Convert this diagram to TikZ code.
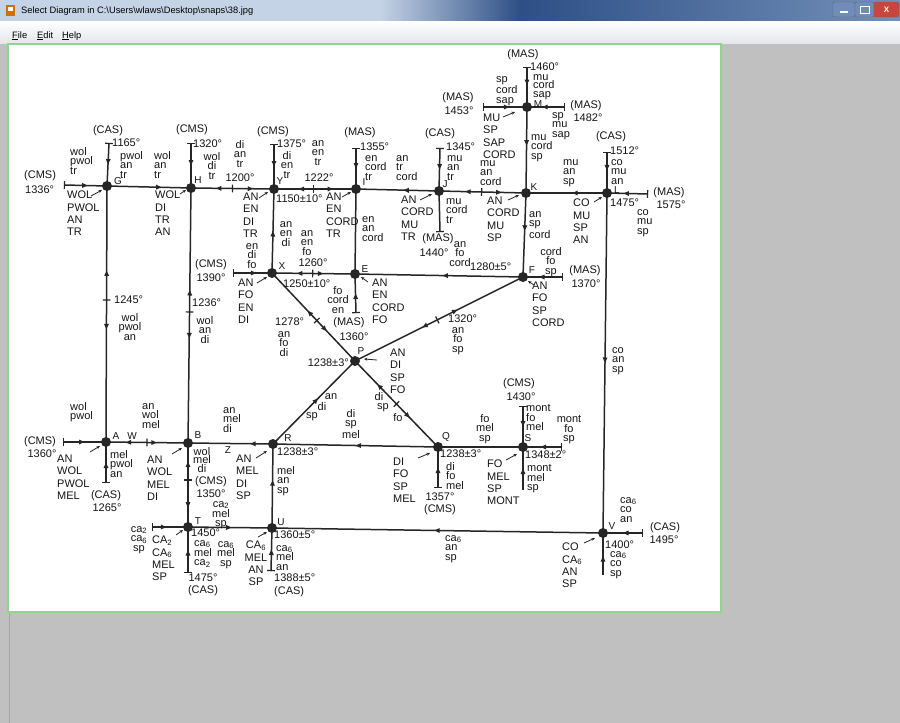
\documentclass[tikz,border=0pt]{standalone}
\usepackage{fontspec}
\setmainfont{Liberation Sans}
\usetikzlibrary{decorations.markings,arrows.meta}
\newcommand{\lsb}[1]{\textsubscript{#1}}
\definecolor{linec}{HTML}{262626}
\definecolor{txtc}{HTML}{151515}
\definecolor{bgc}{HTML}{C0C0C0}
\definecolor{tbA}{HTML}{9DB5D4}
\definecolor{tbB}{HTML}{2D4F86}
\definecolor{tbC}{HTML}{7390B8}
\definecolor{menuc}{HTML}{E4E7EB}
\definecolor{grn}{HTML}{8FD48F}
\definecolor{closec}{HTML}{C8463C}
\definecolor{btnc}{HTML}{6F8DB8}
\tikzset{
  ln/.style={line width=1.5pt, draw=linec},
  ptdot/.style={circle, fill=linec, inner sep=0pt, minimum size=10pt},
  fa/.style={postaction={decorate,decoration={markings,mark=at position #1 with {\arrow{Triangle[length=5.5pt,width=4.5pt]}}}}},
  ba/.style={postaction={decorate,decoration={markings,mark=at position #1 with {\arrowreversed{Triangle[length=5.5pt,width=4.5pt]}}}}},
  tk/.style={postaction={decorate,decoration={markings,mark=at position #1 with {\draw[line width=1.2pt,draw=linec] (0pt,-3.8pt) -- (0pt,3.8pt);}}}},
  lab/.style={font=\fontsize{11}{12}\selectfont, inner sep=0pt, text=txtc},
  ptl/.style={font=\fontsize{10}{11}\selectfont, inner sep=0pt, text=txtc},
  capl/.style={font=\fontsize{11}{12.2}\selectfont, inner sep=0pt, text=txtc, align=left, anchor=north west},
  lo/.style={font=\fontsize{11}{9.8}\selectfont, inner sep=0pt, text=txtc, align=left, anchor=north west},
  loc/.style={lo, align=center, anchor=north},
  tight/.style={font=\fontsize{11}{8.6}\selectfont},
  lead/.style={-{Stealth[length=3.5pt,width=3pt]}, line width=0.8pt, draw=linec},
  ui/.style={font=\fontsize{9.3}{10}\selectfont, inner sep=0pt, text=black},
}
\begin{document}
\begin{tikzpicture}[x=1pt,y=-1pt]
\useasboundingbox (0,0) rectangle (900,723);
% ---------- window chrome ----------
\fill[bgc] (0,0) rectangle (900,723);
\fill[tbA!60!white] (0,0) rectangle (380,21);
\shade[left color=tbA!60!white, right color=tbB] (380,0) rectangle (520,21);
\shade[left color=tbB, right color=tbC] (520,0) rectangle (900,21);
\fill[orange!85!black] (6,5) rectangle (15,16);
\fill[white] (8,7) rectangle (13,11);
\node[ui, anchor=west] (ttl) at (21,11) {Select Diagram in C:\textbackslash Users\textbackslash wlaws\textbackslash Desktop\textbackslash snaps\textbackslash 38.jpg};
\draw[rounded corners=2pt, fill=btnc, draw=black!60] (833,2) rectangle (855,17);
\draw[rounded corners=2pt, fill=btnc, draw=black!60] (855,2) rectangle (874,17);
\draw[rounded corners=2pt, fill=closec, draw=black!60] (874,2) rectangle (899,17);
\draw[white, line width=1.5pt] (840,12) -- (848,12);
\draw[white, line width=1pt] (860,6) rectangle (869,13);
\node[font=\bfseries\fontsize{8}{8}\selectfont, text=white, inner sep=0pt] (xbtn) at (886.5,9.5) {X};
\shade[top color=white, bottom color=menuc] (0,21) rectangle (900,43);
\node[ui, anchor=base west] (mfile) at (12,38) {\underline{F}ile};
\node[ui, anchor=base west] (medit) at (37,38) {\underline{E}dit};
\node[ui, anchor=base west] (mhelp) at (62,38) {\underline{H}elp};
\fill[white] (8,44) rectangle (721,612);
\draw[grn, line width=1.5pt] (8,44) rectangle (721,612);
\draw[black!35] (9,613) -- (9,723);
% ---------- points ----------
\coordinate (G) at (107,186); \coordinate (H) at (191,188);
\coordinate (Y) at (274,189); \coordinate (I) at (356,189);
\coordinate (J) at (439,191); \coordinate (K) at (526,193);
\coordinate (L) at (607,193); \coordinate (M) at (527,107);
\coordinate (X) at (272,273); \coordinate (E) at (355,274);
\coordinate (F) at (523,277); \coordinate (P) at (355,361);
\coordinate (A) at (106,442); \coordinate (B) at (188,443);
\coordinate (R) at (273,444); \coordinate (Q) at (438,447);
\coordinate (S) at (523,447); \coordinate (T) at (188,527);
\coordinate (U) at (272,528); \coordinate (V) at (603,533);
% free ends
\coordinate (g1336) at (64,185); \coordinate (g1165) at (109,143);
\coordinate (h1320) at (191,143); \coordinate (y1375) at (274,144);
\coordinate (i1355) at (356,148); \coordinate (j1345) at (440,148);
\coordinate (m1460) at (527,67); \coordinate (m1453) at (483,107);
\coordinate (m1482) at (565,107); \coordinate (l1512) at (607,152);
\coordinate (l1575) at (648,194); \coordinate (j1440) at (440,232);
\coordinate (x1390) at (233,273); \coordinate (f1370) at (563,277);
\coordinate (e1360) at (356,313);
\coordinate (a1360) at (63,442); \coordinate (a1265) at (106,483);
\coordinate (q1357) at (438,488); \coordinate (s1430) at (523,406);
\coordinate (sDown) at (523,490); \coordinate (sRight) at (562,447);
\coordinate (t1475) at (188,573); \coordinate (u1388) at (271,571);
\coordinate (v1495) at (643,533); \coordinate (vDown) at (603,575);
\coordinate (tLeft) at (152,527);
% ---------- connectors ----------
\draw[ln, tk=0.01, fa=0.55] (g1336) -- (G);
\draw[ln, tk=0.01, fa=0.5] (g1165) -- (G);
\draw[ln, fa=0.65] (G) -- (H);
\draw[ln, tk=0.01, fa=0.5] (h1320) -- (H);
\draw[ln, tk=0.5, ba=0.3, fa=0.75] (H) -- (Y);
\draw[ln, tk=0.01, fa=0.5] (y1375) -- (Y);
\draw[ln, tk=0.48, ba=0.3, fa=0.72] (Y) -- (I);
\draw[ln, tk=0.01, fa=0.5] (i1355) -- (I);
\draw[ln, ba=0.57] (I) -- (J);
\draw[ln, tk=0.01, fa=0.5] (j1345) -- (J);
\draw[ln, tk=0.49, ba=0.3, fa=0.72] (J) -- (K);
\draw[ln, tk=0.01, fa=0.45] (m1460) -- (M);
\draw[ln, tk=0.01, fa=0.6] (m1453) -- (M);
\draw[ln, tk=0.01, fa=0.6] (m1482) -- (M);
\draw[ln, fa=0.45] (M) -- (K);
\draw[ln, ba=0.57] (K) -- (L);
\draw[ln, tk=0.01, fa=0.45] (l1512) -- (L);
\draw[ln, tk=0.01, fa=0.6] (l1575) -- (L);
\draw[ln, fa=0.45] (K) -- (F);
\draw[ln, fa=0.5] (L) -- (V);
\draw[ln, tk=0.01] (j1440) -- (J);
\draw[ln, tk=0.01, fa=0.6] (x1390) -- (X);
\draw[ln, fa=0.5] (X) -- (Y);
\draw[ln, tk=0.49, ba=0.3, fa=0.62] (X) -- (E);
\draw[ln] (E) -- (I);
\draw[ln, tk=0.01, fa=0.5] (e1360) -- (E);
\draw[ln, ba=0.52] (E) -- (F);
\draw[ln, tk=0.01, fa=0.6] (f1370) -- (F);
\draw[ln, tk=0.54, ba=0.43, fa=0.66] (X) -- (P);
\draw[ln, tk=0.49, ba=0.40, fa=0.61] (P) -- (F);
\draw[ln, fa=0.55] (R) -- (P);
\draw[ln, tk=0.5, ba=0.27, fa=0.66] (P) -- (Q);
\draw[ln, tk=0.01, fa=0.5] (a1360) -- (A);
\draw[ln, tk=0.5, ba=0.24, fa=0.62] (A) -- (B);
\draw[ln, tk=0.01, fa=0.5] (a1265) -- (A);
\draw[ln, tk=0.445, ba=0.33, fa=0.56] (G) -- (A);
\draw[ln, tk=0.486, ba=0.4, fa=0.59] (H) -- (B);
\draw[ln, ba=0.73] (B) -- (R);
\draw[ln, tk=0.44, ba=0.22, fa=0.77] (B) -- (T);
\draw[ln, ba=0.5] (R) -- (Q);
\draw[ln] (Q) -- (S);
\draw[ln, tk=0.01, fa=0.55] (sRight) -- (S);
\draw[ln, tk=0.01, fa=0.5] (s1430) -- (S);
\draw[ln, fa=0.5] (sDown) -- (S);
\draw[ln, tk=0.01, fa=0.5] (q1357) -- (Q);
\draw[ln, fa=0.57] (U) -- (R);
\draw[ln, fa=0.52] (T) -- (U);
\draw[ln, ba=0.49] (U) -- (V);
\draw[ln, tk=0.01, fa=0.5] (v1495) -- (V);
\draw[ln, fa=0.45] (vDown) -- (V);
\draw[ln, tk=0.01, fa=0.5] (t1475) -- (T);
\draw[ln, tk=0.01, fa=0.5] (u1388) -- (U);
\draw[ln, tk=0.01, fa=0.4] (tLeft) -- (T);
% ---------- dots ----------
\foreach \p in {G,H,Y,I,J,K,L,M,X,E,F,P,A,B,R,Q,S,T,U,V}
  \node[ptdot] (d\p) at (\p) {};
% ---------- point letters ----------
\node[ptl] (nG) at (118,181) {G};
\node[ptl] (nH) at (198,180) {H};
\node[ptl] (nY) at (280,181) {Y};
\node[ptl] (nI) at (364,182) {I};
\node[ptl] (nJ) at (445,184) {J};
\node[ptl] (nK) at (534,187) {K};
\node[ptl] (nL) at (617,190) {L};
\node[ptl] (nM) at (538,104) {M};
\node[ptl] (nX) at (282,266) {X};
\node[ptl] (nE) at (365,269) {E};
\node[ptl] (nF) at (532,270) {F};
\node[ptl] (nP) at (361,351) {P};
\node[ptl] (nA) at (116,436) {A};
\node[ptl] (nW) at (132,436) {W};
\node[ptl] (nB) at (198,435) {B};
\node[ptl] (nZ) at (228,450) {Z};
\node[ptl] (nR) at (288,438) {R};
\node[ptl] (nQ) at (446,437) {Q};
\node[ptl] (nS) at (528,438) {S};
\node[ptl] (nT) at (198,521) {T};
\node[ptl] (nU) at (281,522) {U};
\node[ptl] (nV) at (612,526) {V};
% ---------- top-left labels ----------
\node[lab] (tCAS1) at (108,131) {(CAS)};
\node[lab, anchor=west] (t1165) at (112,143) {1165°};
\node[lo] (lG1) at (70,147) {wol\\pwol\\tr};
\node[lo] (lG2) at (120,151) {pwol\\an\\tr};
\node[lo] (lG3) at (154,151) {wol\\an\\tr};
\node[lab, anchor=west] (tCMS1) at (24,176) {(CMS)};
\node[lab, anchor=west] (t1336) at (25,190) {1336°};
\node[capl] (cG) at (67,191) {WOL\\PWOL\\AN\\TR};
\draw[lead] ([shift={(-16,10)}]G) -- ([shift={(-5,4)}]G);
\node[capl] (cH) at (155,191) {WOL\\DI\\TR\\AN};
\draw[lead] ([shift={(-11,6)}]H) -- ([shift={(-5,2)}]H);
\node[lab] (tCMS2) at (192,130) {(CMS)};
\node[lab, anchor=west] (t1320) at (193,144) {1320°};
\node[loc] (lH1) at (240,140) {di\\an\\tr};
\node[loc] (lH2) at (212,152) {wol\\di\\tr};
\node[lab] (t1200) at (240,178) {1200°};
\node[lab] (tCMS3) at (273,132) {(CMS)};
\node[lab, anchor=west] (t1375) at (277,144) {1375°};
\node[loc] (lY1) at (318,140) {an\\en\\tr};
\node[loc] (lY2) at (287,151) {di\\en\\tr};
\node[lab] (t1222) at (319,178) {1222°};
\node[capl] (cY) at (243,193) {AN\\EN\\DI\\TR};
\draw[lead] ([shift={(-15,9)}]Y) -- ([shift={(-6,3)}]Y);
\node[loc] (lX0) at (252,243) {en\\di\\fo};
\node[lab, anchor=west] (t1150) at (276,199) {1150±10°};
\node[capl] (cI) at (326,193) {AN\\EN\\CORD\\TR};
\draw[lead] ([shift={(-14,8)}]I) -- ([shift={(-5,3)}]I);
\node[loc] (lXY) at (286,221) {an\\en\\di};
\node[loc] (lXE1) at (307,230) {an\\en\\fo};
\node[lo] (lIE) at (362,216) {en\\an\\cord};
\node[lab] (t1260) at (313,263) {1260°};
\node[lab] (tCMS4) at (211,265) {(CMS)};
\node[lab] (t1390) at (211,278) {1390°};
\node[capl] (cX) at (238,279) {AN\\FO\\EN\\DI};
\draw[lead] ([shift={(-15,10)}]X) -- ([shift={(-5,4)}]X);
\node[lab, anchor=west] (t1250) at (283,284) {1250±10°};
\node[loc] (lXE2) at (338,286) {fo\\cord\\en};
\node[capl] (cE) at (372,279) {AN\\EN\\CORD\\FO};
\draw[lead] ([shift={(13,8)}]E) -- ([shift={(6,3)}]E);
\node[lab, anchor=west] (t1236) at (192,303) {1236°};
\node[loc] (lHB) at (205,316) {wol\\an\\di};
\node[lab, anchor=west] (t1245) at (114,300) {1245°};
\node[loc] (lGA) at (130,313) {wol\\pwol\\an};
\node[lab, anchor=west] (t1278) at (275,322) {1278°};
\node[loc] (lXP) at (284,331) {an\\fo\\di};
\node[lab] (tMAS5) at (349,323) {(MAS)};
\node[lab] (t1360e) at (354,337) {1360°};
\node[lab, anchor=east] (t1238P) at (349,363) {1238±3°};
\node[capl] (cP) at (390,349) {AN\\DI\\SP\\FO};
\draw[lead] ([shift={(22,-1)}]P) -- ([shift={(9,-2)}]P);
% ---------- M, K, L area ----------
\node[lab] (tMAS1) at (523,55) {(MAS)};
\node[lab, anchor=west] (t1460) at (530,67) {1460°};
\node[lo, tight] (lM1) at (533,74) {mu\\cord\\sap};
\node[lo] (lM2) at (496,76) {sp\\cord\\sap};
\node[lab] (tMAS2) at (458,98) {(MAS)};
\node[lab] (t1453) at (459,111) {1453°};
\node[lab] (tMAS3) at (586,106) {(MAS)};
\node[lab] (t1482) at (588,118) {1482°};
\node[lo] (lM3) at (552,112) {sp\\mu\\sap};
\node[capl] (cM) at (483,114) {MU\\SP\\SAP\\CORD};
\draw[lead] ([shift={(-24,10)}]M) -- ([shift={(-12,5)}]M);
\node[lo] (lMK) at (531,134) {mu\\cord\\sp};
\node[lab] (tMAS4) at (360,133) {(MAS)};
\node[lab, anchor=west] (t1355) at (360,147) {1355°};
\node[lo] (lI1) at (365,155) {en\\cord\\tr};
\node[lo] (lI2) at (396,155) {an\\tr\\cord};
\node[lab] (tCAS2) at (440,134) {(CAS)};
\node[lab, anchor=west] (t1345) at (446,147) {1345°};
\node[lo] (lJ1) at (447,155) {mu\\an\\tr};
\node[lo] (lJ2) at (480,160) {mu\\an\\cord};
\node[lo] (lK1) at (563,159) {mu\\an\\sp};
\node[lab] (tCAS3) at (611,137) {(CAS)};
\node[lab, anchor=west] (t1512) at (610,151) {1512°};
\node[lo] (lL1) at (611,159) {co\\mu\\an};
\node[lab, anchor=west] (t1475L) at (610,203) {1475°};
\node[capl] (cL) at (573,199) {CO\\MU\\SP\\AN};
\draw[lead] ([shift={(-13,9)}]L) -- ([shift={(-5,4)}]L);
\node[lab] (tMAS6) at (669,193) {(MAS)};
\node[lab] (t1575) at (671,205) {1575°};
\node[lo] (lL2) at (637,209) {co\\mu\\sp};
\node[lo] (lKF) at (529,211) {an\\sp\\cord};
\node[capl] (cK) at (487,197) {AN\\CORD\\MU\\SP};
\draw[lead] ([shift={(-18,7)}]K) -- ([shift={(-7,2)}]K);
\node[loc] (lF1) at (551,247) {cord\\fo\\sp};
\node[lab] (tMAS7) at (585,271) {(MAS)};
\node[lab] (t1370) at (586,284) {1370°};
\node[capl] (cF) at (532,282) {AN\\FO\\SP\\CORD};
\draw[lead] ([shift={(11,8)}]F) -- ([shift={(5,4)}]F);
\node[capl] (cJ) at (401,196) {AN\\CORD\\MU\\TR};
\draw[lead] ([shift={(-19,9)}]J) -- ([shift={(-7,3)}]J);
\node[lo] (lJ3) at (446,198) {mu\\cord\\tr};
\node[lab] (tMAS8) at (438,239) {(MAS)};
\node[lab] (t1440) at (434,253) {1440°};
\node[loc] (lEF) at (460,241) {an\\fo\\cord};
\node[lab, anchor=west] (t1280) at (470,267) {1280±5°};
\node[lab, anchor=west] (t1320F) at (448,319) {1320°};
\node[loc] (lPF) at (458,327) {an\\fo\\sp};
\node[lo] (lLV) at (612,347) {co\\an\\sp};
% ---------- lower left ----------
\node[lo] (lA1) at (70,402) {wol\\pwol};
\node[lo] (lA2) at (142,403) {an\\wol\\mel};
\node[lab] (tCMS5) at (40,442) {(CMS)};
\node[lab] (t1360A) at (42,454) {1360°};
\node[capl] (cA) at (57,455) {AN\\WOL\\PWOL\\MEL};
\draw[lead] ([shift={(-16,10)}]A) -- ([shift={(-6,4)}]A);
\node[lo] (lA3) at (110,450) {mel\\pwol\\an};
\node[lab] (tCAS4) at (106,496) {(CAS)};
\node[lab] (t1265) at (107,508) {1265°};
\node[capl] (cB) at (147,456) {AN\\WOL\\MEL\\DI};
\draw[lead] ([shift={(-16,11)}]B) -- ([shift={(-6,5)}]B);
\node[loc, tight] (lB1) at (202,447) {wol\\mel\\di};
\node[lab] (tCMS6) at (211,482) {(CMS)};
\node[lab] (t1350) at (211,494) {1350°};
\node[loc, tight] (lBT) at (221,501) {ca\lsb{2}\\mel\\sp};
\node[lo] (lB2) at (223,407) {an\\mel\\di};
\node[capl] (cR) at (236,455) {AN\\MEL\\DI\\SP};
\draw[lead] ([shift={(-17,14)}]R) -- ([shift={(-6,7)}]R);
\node[lab, anchor=west] (t1238R) at (277,452) {1238±3°};
\node[lo] (lRU) at (277,466) {mel\\an\\sp};
\node[lab] (lPR1) at (331,397) {an};
\node[lab] (lPR2) at (322,407) {di};
\node[lab] (lPR3) at (312,417) {sp};
\node[loc] (lRQ) at (351,409) {di\\sp\\mel};
\node[lab] (lPQ1) at (379,397) {di};
\node[lab] (lPQ2) at (383,408) {sp};
\node[lab] (lPQ3) at (398,418) {fo};
\node[loc] (lQS) at (485,414) {fo\\mel\\sp};
\node[lab, anchor=west] (t1238Q) at (440,454) {1238±3°};
\node[lo] (lQ1) at (446,462) {di\\fo\\mel};
\node[capl] (cQ) at (393,458) {DI\\FO\\SP\\MEL};
\draw[lead] ([shift={(-20,11)}]Q) -- ([shift={(-8,6)}]Q);
\node[lab] (t1357) at (440,497) {1357°};
\node[lab] (tCMS7) at (440,510) {(CMS)};
\node[capl] (cS) at (487,460) {FO\\MEL\\SP\\MONT};
\draw[lead] ([shift={(-17,13)}]S) -- ([shift={(-6,7)}]S);
\node[lab, anchor=west] (t1348) at (525,455) {1348±2°};
\node[lab] (tCMS8) at (519,384) {(CMS)};
\node[lab] (t1430) at (521,397) {1430°};
\node[lo] (lS1) at (526,404) {mont\\fo\\mel};
\node[loc] (lS2) at (569,415) {mont\\fo\\sp};
\node[lo] (lS3) at (527,464) {mont\\mel\\sp};
% ---------- bottom ----------
\node[lab, anchor=west] (t1450) at (191,533) {1450°};
\node[lo, tight] (lT1) at (194,540) {ca\lsb{6}\\mel\\ca\lsb{2}};
\node[loc] (lTU) at (226,541) {ca\lsb{6}\\mel\\sp};
\node[capl, align=center, anchor=north] (cU) at (256,541) {CA\lsb{6}\\MEL\\AN\\SP};
\draw[lead] ([shift={(-14,9)}]U) -- ([shift={(-5,4)}]U);
\node[lab, anchor=west] (t1360U) at (274,535) {1360±5°};
\node[lo] (lU1) at (276,545) {ca\lsb{6}\\mel\\an};
\node[lab, anchor=west] (t1388) at (274,578) {1388±5°};
\node[lab, anchor=west] (tCAS5) at (274,592) {(CAS)};
\node[lab] (t1475T) at (203,578) {1475°};
\node[lab] (tCAS6) at (203,591) {(CAS)};
\node[loc] (lT0) at (139,526) {ca\lsb{2}\\ca\lsb{6}\\sp};
\node[capl] (cT) at (152,536) {CA\lsb{2}\\CA\lsb{6}\\MEL\\SP};
\draw[lead] ([shift={(-12,8)}]T) -- ([shift={(-5,3)}]T);
\node[lo] (lUV) at (445,535) {ca\lsb{6}\\an\\sp};
\node[lo] (lV1) at (620,497) {ca\lsb{6}\\co\\an};
\node[lab] (tCAS7) at (665,528) {(CAS)};
\node[lab] (t1495) at (664,540) {1495°};
\node[lab, anchor=west] (t1400) at (605,545) {1400°};
\node[lo] (lV2) at (610,551) {ca\lsb{6}\\co\\sp};
\node[capl] (cV) at (562,543) {CO\\CA\lsb{6}\\AN\\SP};
\draw[lead] ([shift={(-19,10)}]V) -- ([shift={(-8,5)}]V);
\end{tikzpicture}
\end{document}
